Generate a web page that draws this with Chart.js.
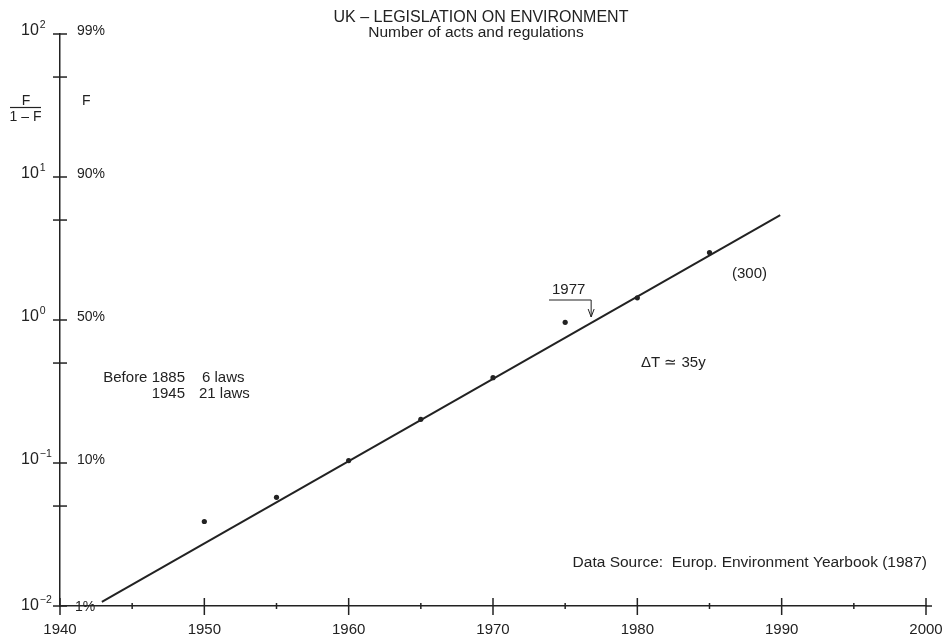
<!DOCTYPE html>
<html>
<head>
<meta charset="utf-8">
<title>UK - Legislation on environment</title>
<script src="https://cdn.jsdelivr.net/npm/chart.js@4.4.1/dist/chart.umd.min.js"></script>
<style>
  html, body { margin: 0; padding: 0; background: #fff; }
  #wrap { width: 942px; height: 641px; position: relative; }
</style>
</head>
<body>
<div id="wrap"><canvas id="chart"></canvas></div>
<script>
const years = [1950, 1955, 1960, 1965, 1970, 1975, 1980, 1985];
const ratios = [0.039, 0.0575, 0.104, 0.202, 0.395, 0.964, 1.43, 2.96];

// fitted logistic (a straight line on this scale)
const fitYears = [1942.9, 1989.9];
const fitRatios = [0.0107, 5.42];

// y axis: tick values, labelled decades and their F equivalents
const yTicks = [0.01, 0.05, 0.1, 0.5, 1, 5, 10, 50, 100];
const yLabelValues = [0.01, 0.1, 1, 10, 100];
const yExponents = ["\u22122", "\u22121", "0", "1", "2"];
const yPercents = ["1%", "10%", "50%", "90%", "99%"];

const xMin = 1940, xMax = 2000, xStep = 5;

const FONT = "'Liberation Sans', Arial, sans-serif";
const INK = "#222";

function text(ctx, s, x, y, size, align) {
  ctx.font = size + "px " + FONT;
  ctx.textAlign = align || "left";
  ctx.textBaseline = "alphabetic";
  ctx.fillText(s, x, y);
}

function line(ctx, pts, w) {
  ctx.lineWidth = w;
  ctx.beginPath();
  ctx.moveTo(pts[0][0], pts[0][1]);
  for (let i = 1; i < pts.length; i++) ctx.lineTo(pts[i][0], pts[i][1]);
  ctx.stroke();
}

const decor = {
  id: "decor",
  afterDraw(chart) {
    const ctx = chart.ctx;
    const x = chart.scales.x, y = chart.scales.y;
    const x0 = x.getPixelForValue(xMin);
    const y0 = y.getPixelForValue(yTicks[0]);
    ctx.save();
    ctx.strokeStyle = INK;
    ctx.fillStyle = INK;

    // ticks crossing the x axis (the 1940 one also carries the y axis below the x axis)
    for (let yr = xMin; yr <= xMax; yr += xStep) {
      const px = x.getPixelForValue(yr);
      const major = yr % 10 === 0;
      line(ctx, [[px, y0 - (major ? 8 : 3)], [px, y0 + (major ? 9 : 3)]], 1.5);
    }
    line(ctx, [[x.right, y0], [x.right + 6, y0]], 1.5);
    // ticks crossing the y axis
    yTicks.forEach(v => {
      const py = y.getPixelForValue(v);
      line(ctx, [[x0 - 7, py], [x0 + 7, py]], 1.5);
    });

    // decade labels 10^n on the left, F in % on the right
    yLabelValues.forEach((v, i) => {
      const py = y.getPixelForValue(v);
      const base = i === 0 ? py + 4 : py + 1;
      text(ctx, "10", 21, base, 16);
      ctx.font = "16px " + FONT;
      const w = ctx.measureText("10").width;
      text(ctx, yExponents[i], 21 + w + 1, base - 7, 10.5);
      text(ctx, yPercents[i], x0 + (i === 0 ? 15 : 17), i === 0 ? py + 5 : py + 1, 14);
    });

    // axis titles
    text(ctx, "F", 26, 105, 14, "center");
    line(ctx, [[10, 107.5], [41, 107.5]], 1.2);
    text(ctx, "1 \u2013 F", 25.5, 121, 14, "center");
    text(ctx, "F", 82, 105, 14);

    // title
    text(ctx, "UK \u2013 LEGISLATION ON ENVIRONMENT", 481, 22, 16, "center");
    text(ctx, "Number of acts and regulations", 476, 37, 15.5, "center");

    // notes
    text(ctx, "Before 1885", 185, 382, 15, "right");
    text(ctx, "6 laws", 202, 382, 15);
    text(ctx, "1945", 185, 398, 15, "right");
    text(ctx, "21 laws", 199, 398, 15);
    text(ctx, "(300)", 732, 278, 15);
    text(ctx, "\u0394T \u2243 35y", 641, 367, 15);
    text(ctx, "Data Source:  Europ. Environment Yearbook (1987)", 927, 567, 15.5, "right");

    // 1977 marker with arrow down onto the line
    const ax = x.getPixelForValue(1976.8);
    text(ctx, "1977", 552, 294, 15);
    line(ctx, [[549, 300], [ax, 300], [ax, 317]], 1);
    line(ctx, [[ax - 3, 309], [ax, 317], [ax + 3, 309]], 1);

    ctx.restore();
  }
};

new Chart(document.getElementById("chart"), {
  type: "scatter",
  data: {
    datasets: [
      {
        data: years.map((t, i) => ({ x: t, y: ratios[i] })),
        pointRadius: 2.6,
        pointBackgroundColor: INK,
        pointBorderWidth: 0,
        order: 0,
      },
      {
        data: fitYears.map((t, i) => ({ x: t, y: fitRatios[i] })),
        showLine: true,
        borderColor: INK,
        borderWidth: 2,
        pointRadius: 0,
        order: 1,
      },
    ],
  },
  options: {
    responsive: true,
    maintainAspectRatio: false,
    animation: false,
    layout: { padding: { top: 34, right: 16, left: 0, bottom: 0 } },
    plugins: { legend: { display: false }, tooltip: { enabled: false } },
    scales: {
      x: {
        type: "linear",
        min: xMin,
        max: xMax,
        afterFit: s => { s.height = 35; s.paddingLeft = 0; s.paddingRight = 0; },
        grid: { display: false, drawTicks: false },
        border: { color: INK, width: 1.5 },
        ticks: {
          stepSize: xStep,
          autoSkip: false,
          maxRotation: 0,
          padding: 15,
          color: INK,
          font: { family: FONT, size: 15 },
          callback: v => (v % 10 === 0 ? String(v) : ""),
        },
      },
      y: {
        type: "logarithmic",
        min: 0.01,
        max: 100,
        afterFit: s => { s.width = 60; },
        afterBuildTicks: s => { s.ticks = yTicks.map(v => ({ value: v })); },
        grid: { display: false, drawTicks: false },
        border: { color: INK, width: 1.5 },
        ticks: { display: false },
      },
    },
  },
  plugins: [decor],
});
</script>
</body>
</html>
